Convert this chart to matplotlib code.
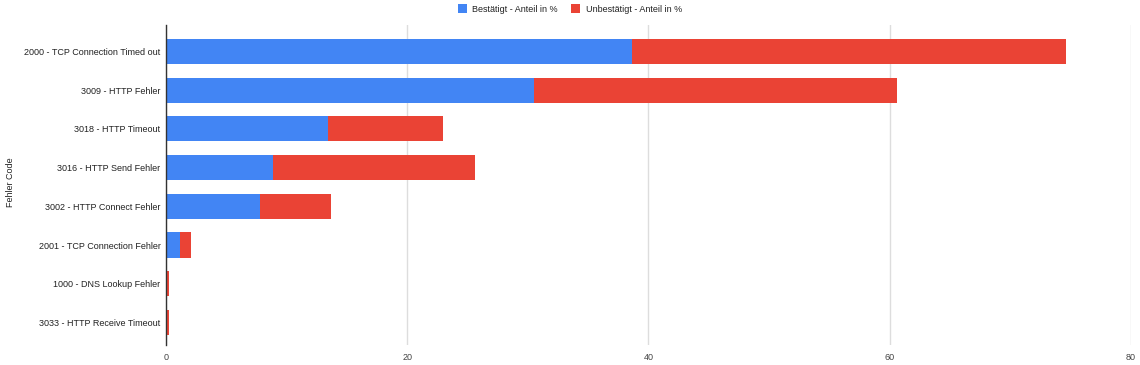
import matplotlib
matplotlib.use('Agg')
import matplotlib.pyplot as plt

categories = [
    '2000 - TCP Connection Timed out',
    '3009 - HTTP Fehler',
    '3018 - HTTP Timeout',
    '3016 - HTTP Send Fehler',
    '3002 - HTTP Connect Fehler',
    '2001 - TCP Connection Fehler',
    '1000 - DNS Lookup Fehler',
    '3033 - HTTP Receive Timeout',
]
bestaetigt = [38.6, 30.5, 13.4, 8.9, 7.8, 1.15, 0.03, 0.03]
unbestaetigt = [36.0, 30.1, 9.6, 16.7, 5.9, 0.95, 0.22, 0.22]
xticks = [0, 20, 40, 60, 80]

blue = '#4285F4'
red = '#EA4335'

plt.rcParams['font.family'] = ['Arial', 'Liberation Sans', 'DejaVu Sans']

fig = plt.figure(figsize=(11.4, 3.65), dpi=100)
ax = fig.add_axes([0.1456, 0.0548, 0.8464, 0.877])

y = list(range(len(categories)))
ax.barh(y, bestaetigt, height=0.65, color=blue, label='Bestätigt - Anteil in %', zorder=2)
ax.barh(y, unbestaetigt, left=bestaetigt, height=0.65, color=red,
        label='Unbestätigt - Anteil in %', zorder=2)

ax.set_ylim(len(categories) - 0.42, -0.685)
ax.set_xlim(0, 80)
ax.set_yticks(y)
ax.set_yticklabels(categories, fontsize=6.5, color='#222222')
ax.set_xticks(xticks)
ax.set_xticklabels([str(t) for t in xticks], fontsize=6.5, color='#444444')
ax.tick_params(axis='both', length=0, pad=6)
ax.tick_params(axis='y', pad=4)
ax.grid(axis='x', color='#dddddd', lw=1, zorder=0)
for s in ['top', 'right', 'bottom']:
    ax.spines[s].set_visible(False)
ax.spines['left'].set_color('#333333')
ax.spines['left'].set_linewidth(1)
ax.spines['left'].set_zorder(3)

fig.text(0.009, 0.5, 'Fehler Code', rotation=90, ha='center', va='center',
         fontsize=6.5, color='#222222')

fig.legend(loc='upper center', bbox_to_anchor=(0.5, 1.01), ncol=2, frameon=False,
           fontsize=6.5, handlelength=1, handleheight=1, handletextpad=0.6,
           columnspacing=1.5, labelcolor='#222222')

fig.savefig('out.png', dpi=100, facecolor='white')
